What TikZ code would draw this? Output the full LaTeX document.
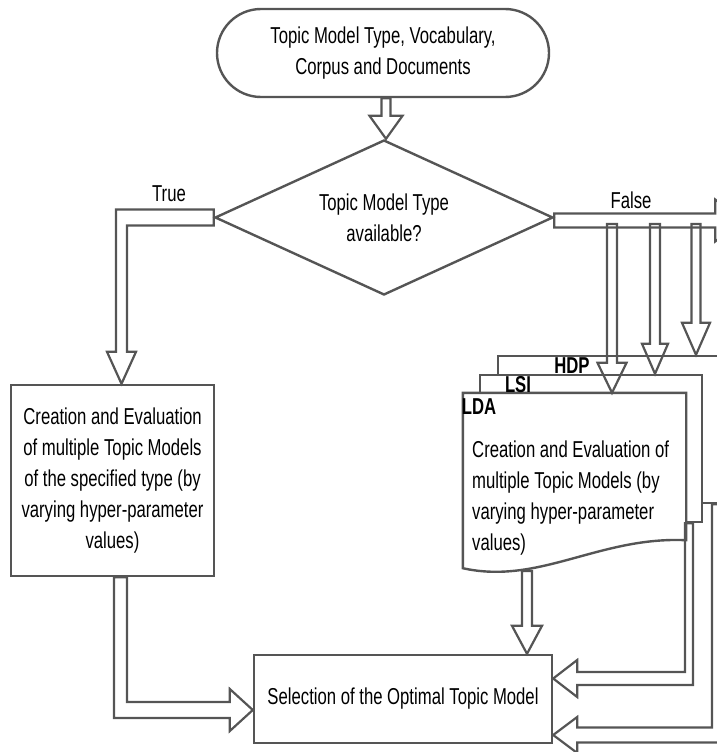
\documentclass[tikz,border=0pt]{standalone}
\usepackage{fontspec}
\setmainfont{Liberation Sans}[FakeStretch=0.726]
\usetikzlibrary{shapes.geometric,calc}
\definecolor{lc}{RGB}{85,85,85}
\tikzset{
  ln/.style={draw=lc, line width=2.4pt},
  blk/.style={draw=lc, line width=2.2pt, line join=miter},
  txt/.style={inner sep=0pt, text=black, font=\fontsize{23}{31}\selectfont},
  boxnode/.style={ln, txt, rectangle, align=center},
  lbl/.style={inner sep=0pt, text=black, font=\fontsize{23}{31}\selectfont\bfseries},
}
% vertical down block arrow: start, tip, shaft half width, head half width, head length
\newcommand\vblk[5]{\draw[blk] let \p1=(#1), \p2=(#2) in
  (\x1-#3pt,\y1) -- (\x1-#3pt,\y2+#5pt) -- (\x1-#4pt,\y2+#5pt) -- (\x1,\y2) --
  (\x1+#4pt,\y2+#5pt) -- (\x1+#3pt,\y2+#5pt) -- (\x1+#3pt,\y1) -- cycle;}
% horizontal right block arrow: start, tip, half thickness, head half, head length
\newcommand\hblkr[5]{\draw[blk] let \p1=(#1), \p2=(#2) in
  (\x1,\y1+#3pt) -- (\x2-#5pt,\y1+#3pt) -- (\x2-#5pt,\y1+#4pt) -- (\x2,\y1) --
  (\x2-#5pt,\y1-#4pt) -- (\x2-#5pt,\y1-#3pt) -- (\x1,\y1-#3pt) -- cycle;}
% left then down: start, tip, horiz half thickness, vert half width, head half, head length
\newcommand\ldblk[6]{\draw[blk] let \p1=(#1), \p2=(#2) in
  (\x1,\y1+#3pt) -- (\x2-#4pt,\y1+#3pt) -- (\x2-#4pt,\y2+#6pt) -- (\x2-#5pt,\y2+#6pt) -- (\x2,\y2) --
  (\x2+#5pt,\y2+#6pt) -- (\x2+#4pt,\y2+#6pt) -- (\x2+#4pt,\y1-#3pt) -- (\x1,\y1-#3pt) -- cycle;}
% down then right: start, tip, vert half width, horiz half thickness, head half, head length
\newcommand\drblk[6]{\draw[blk] let \p1=(#1), \p2=(#2) in
  (\x1-#3pt,\y1) -- (\x1-#3pt,\y2-#4pt) -- (\x2-#6pt,\y2-#4pt) -- (\x2-#6pt,\y2-#5pt) -- (\x2,\y2) --
  (\x2-#6pt,\y2+#5pt) -- (\x2-#6pt,\y2+#4pt) -- (\x1+#3pt,\y2+#4pt) -- (\x1+#3pt,\y1) -- cycle;}
% down then left: start, tip, vert half width, horiz half thickness, head half, head length
\newcommand\dlblk[6]{\draw[blk] let \p1=(#1), \p2=(#2) in
  (\x1-#3pt,\y1) -- (\x1-#3pt,\y2+#4pt) -- (\x2+#6pt,\y2+#4pt) -- (\x2+#6pt,\y2+#5pt) -- (\x2,\y2) --
  (\x2+#6pt,\y2-#5pt) -- (\x2+#6pt,\y2-#4pt) -- (\x1+#3pt,\y2-#4pt) -- (\x1+#3pt,\y1) -- cycle;}
\begin{document}
\begin{tikzpicture}[x=1pt,y=-1pt]
\useasboundingbox (0,0) rectangle (717,752);
\clip (0,0) rectangle (717,752);

% main nodes
\node[boxnode, rounded corners=44pt, minimum width=332pt, minimum height=88pt] (term) at (383,53)
  {Topic Model Type, Vocabulary,\\Corpus and Documents};
\node[ln, txt, diamond, aspect=2.18, minimum width=338pt, minimum height=155pt, align=center] (dia) at (384,217.5)
  {Topic Model Type\\available?};
\node[boxnode, minimum width=203pt, minimum height=191pt] (leftbox) at (112.5,480.5)
  {Creation and Evaluation\\of multiple Topic Models\\of the specified type (by\\varying hyper-parameter\\values)};
\node[boxnode, minimum width=298pt, minimum height=88pt] (sel) at (403,699)
  {Selection of the Optimal Topic Model};

% stacked document pages
\node[ln, fill=white, rectangle, minimum width=222pt, minimum height=147pt, inner sep=0pt] (hdp) at (609,429.5) {};
\node[ln, fill=white, rectangle, minimum width=222pt, minimum height=147pt, inner sep=0pt] (lsi) at (591,448.5) {};
\node[rectangle, minimum width=223pt, minimum height=147pt, inner sep=0pt] (lda) at (574.5,466.5) {};
\draw[ln, fill=white, line join=miter] ($(lda.south west)+(0,28)$) -- (lda.north west) -- (lda.north east) -- (lda.south east)
  .. controls ($(lda.south east)+(-87,-4)$) and ($(lda.south east)+(-147,45)$) .. ($(lda.south west)+(0,28)$) -- cycle;
\node[txt, anchor=west, align=left] (ldatext) at (472,498.5)
  {Creation and Evaluation of\\multiple Topic Models (by\\varying hyper-parameter\\values)};
\node[lbl] (lhdp) at (572,366) {HDP};
\node[lbl] (llsi) at (518,385) {LSI};
\node[lbl] (llda) at (479,407) {LDA};

% labels
\node[txt] (ltrue) at (169,194) {True};
\node[txt] (lfalse) at (631,200) {False};

% connector end points
\coordinate (ts) at ($(term.south)+(3,0)$);
\coordinate (ttip) at ($(leftbox.north)+(9,0)$);
\coordinate (fs) at ($(dia.east)+(0,3)$);
\coordinate (fe) at ($(fs)+(190,0)$);
\coordinate (v1s) at (612,224);
\coordinate (v2s) at (655,224);
\coordinate (v3s) at (696,224);
\coordinate (ldas) at (527,571);
\coordinate (lbs) at ($(leftbox.south)+(8,0)$);
\coordinate (lbt) at ($(sel.west)+(0,11)$);
\coordinate (as) at ($(lsi.south)+(98,0)$);
\coordinate (at) at ($(sel.east)+(0,-20.5)$);
\coordinate (bs) at ($(hdp.south)+(107,0)$);
\coordinate (bt) at ($(sel.east)+(0,36)$);

% connectors
\vblk{ts}{dia.north}{4.5}{16.5}{23}
\ldblk{dia.west}{ttip}{8}{5.5}{14.5}{32}
\hblkr{fs}{fe}{7}{21}{29}
\vblk{v1s}{v1s |- lda.north}{5}{14.5}{30}
\vblk{v2s}{v2s |- lsi.north}{5}{13}{30}
\vblk{v3s}{v3s |- hdp.north}{4.5}{14}{32}
\vblk{ldas}{ldas |- sel.north}{5}{15}{28}
\drblk{lbs}{lbt}{6.5}{8}{21}{23}
\dlblk{as}{at}{4}{6.5}{18.5}{24}
\dlblk{bs}{bt}{4}{7.5}{18}{24}
\end{tikzpicture}
\end{document}
